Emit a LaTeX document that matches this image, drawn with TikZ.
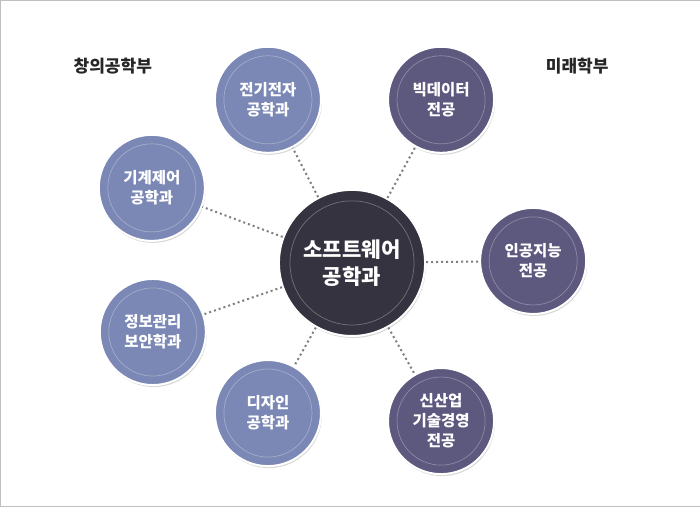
\documentclass[tikz,border=0pt]{standalone}
\usepackage{fontspec}
\setmainfont{Noto Sans CJK KR}
\usetikzlibrary{shadows}
\definecolor{bluec}{HTML}{7B88B5}
\definecolor{purc}{HTML}{5D587E}
\definecolor{darkc}{HTML}{35333F}
\definecolor{dotc}{HTML}{7F7F7F}
\begin{document}
\begin{tikzpicture}[x=1pt,y=-1pt,
  dept/.style={circle,minimum size=106pt,draw=white,line width=2pt,text=white,font=\fontsize{15.5}{20}\selectfont\bfseries,align=center,drop shadow={shadow xshift=1pt,shadow yshift=-2pt,opacity=0.3}},
  core/.style={dept,minimum size=146pt,fill=darkc,font=\fontsize{21}{27}\selectfont\bfseries},
  ring/.style={white,opacity=0.3,line width=0.7pt},
  link/.style={dotc,line width=2pt,dash pattern=on 2pt off 3pt},
  grp/.style={font=\fontsize{17}{20}\selectfont\bfseries,text=black!85}]
\draw[draw=black!25,fill=white] (0.5,0.5) rectangle (699.5,506.5);
\node[core] (c) at (352,263) {};
\node[dept,fill=bluec] (a1) at (268,100) {};
\node[dept,fill=bluec] (a2) at (152,188) {};
\node[dept,fill=bluec] (a3) at (153,332) {};
\node[dept,fill=bluec] (a4) at (268,413) {};
\node[dept,fill=purc] (b1) at (441,100) {};
\node[dept,fill=purc] (b2) at (533,261) {};
\node[dept,fill=purc] (b3) at (441,421) {};
\draw[ring] (c.center) circle (62pt);
\foreach \n in {a1,a2,a3,a4,b1,b2,b3}{\draw[ring] (\n.center) circle (44pt); \draw[link] (c) -- (\n);}
\node[text=white,font=\fontsize{21}{27}\selectfont\bfseries,align=center] (tc) at (c.center) {소프트웨어\\공학과};
\foreach \n/\t in {a1/{전기전자\\공학과},a2/{기계제어\\공학과},a3/{정보관리\\보안학과},a4/{디자인\\공학과},b1/{빅데이터\\전공},b2/{인공지능\\전공},b3/{신산업\\기술경영\\전공}}
  {\node[text=white,font=\fontsize{15.5}{20}\selectfont\bfseries,align=center] (t\n) at (\n.center) {\t};}
\node[grp] (g1) at (113,66) {창의공학부};
\node[grp] (g2) at (577,66) {미래학부};
\end{tikzpicture}
\end{document}
